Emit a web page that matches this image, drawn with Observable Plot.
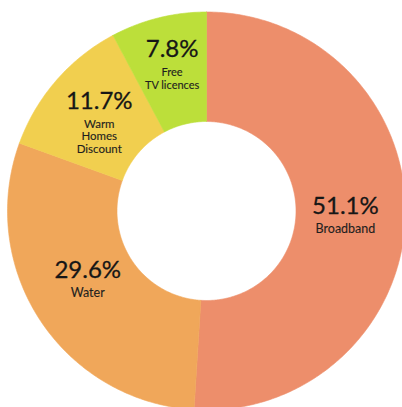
<!DOCTYPE html>
<html><head><meta charset="utf-8">
<script src="https://cdn.jsdelivr.net/npm/d3@7"></script>
<script src="https://cdn.jsdelivr.net/npm/@observablehq/plot@0.6"></script>
<style>html,body{margin:0;padding:0;background:#fff;overflow:hidden;}</style>
</head><body><div id="chart"></div>
<script>
// ---- data ----
const categories = ["Broadband", "Water", "Warm Homes Discount", "Free TV licences"];
const shares = [51.1, 29.6, 11.7, 7.8];
const percentLabels = ["51.1%", "29.6%", "11.7%", "7.8%"];
const nameLines = [["Broadband"], ["Water"], ["Warm", "Homes", "Discount"], ["Free", "TV licences"]];
const colors = ["#ED8E6B", "#F0A75A", "#F1CF4F", "#BCDF3A"];

// ---- layout ----
const W = 402, H = 407;
const CX = 206, CY = 210.5, R0 = 89.5, R1 = 199, RL = 142;
const PCT_SIZE = 24, PCT_CAP = 17, GAP = 19, STEP = 12.5;
const nameSize = {"Broadband": 12.5, "Water": 12.5, "Warm Homes Discount": 11.5, "Free TV licences": 11};
const nudge = {"Broadband": [-3, 0], "Water": [0, -10], "Warm Homes Discount": [0, 4.5], "Free TV licences": [0, -8.5]};

const data = categories.map((c, i) => ({name: c, value: shares[i], pct: percentLabels[i], lines: nameLines[i]}));
const arcs = d3.pie().sort(null).value(d => d.value)(data);

const pts = [];
for (const a of arcs) {
  const n = Math.max(12, Math.ceil((a.endAngle - a.startAngle) * 80));
  const ring = [];
  for (let k = 0; k <= n; k++) {
    const t = a.startAngle + (a.endAngle - a.startAngle) * k / n;
    ring.push([CX + R1 * Math.sin(t), CY - R1 * Math.cos(t)]);
  }
  for (let k = n; k >= 0; k--) {
    const t = a.startAngle + (a.endAngle - a.startAngle) * k / n;
    ring.push([CX + R0 * Math.sin(t), CY - R0 * Math.cos(t)]);
  }
  ring.push(ring[0]);
  ring.forEach(([x, y]) => pts.push({name: a.data.name, x, y}));
}

const pctRows = [], nameRows = [];
for (const a of arcs) {
  const d = a.data;
  const m = (a.startAngle + a.endAngle) / 2;
  const [nx, ny] = nudge[d.name];
  const cx = CX + RL * Math.sin(m) + nx;
  const cy = CY - RL * Math.cos(m) + ny;
  const fs = nameSize[d.name];
  const blockH = PCT_CAP + GAP + STEP * (d.lines.length - 1);
  const pctBase = cy - blockH / 2 + PCT_CAP;
  pctRows.push({x: cx, y: pctBase - 0.32 * PCT_SIZE, text: d.pct});
  d.lines.forEach((ln, i) => {
    const base = pctBase + GAP + STEP * i;
    nameRows.push({x: cx, y: base - 0.32 * fs, text: ln, size: fs});
  });
}

const chart = Plot.plot({
  width: W, height: H,
  margin: 0,
  x: {domain: [0, W], range: [0, W], axis: null},
  y: {domain: [0, H], range: [0, H], axis: null},
  color: {type: "ordinal", domain: categories, range: colors},
  style: {fontFamily: "Lato, 'Open Sans', sans-serif", background: "#fff"},
  marks: [
    Plot.line(pts, {x: "x", y: "y", z: "name", fill: "name", stroke: "name", strokeWidth: 0.6, curve: "linear"}),
    Plot.text(pctRows, {x: "x", y: "y", text: "text", fontSize: PCT_SIZE, fill: "#161616", stroke: "#161616", strokeWidth: 0.3, textAnchor: "middle", lineAnchor: "middle"}),
    Plot.text(nameRows, {x: "x", y: "y", text: "text", fontSize: "size", fill: "#1e1e1e", stroke: "#1e1e1e", strokeWidth: 0.12, textAnchor: "middle", lineAnchor: "middle"})
  ]
});
document.getElementById("chart").appendChild(chart);
</script>
</body></html>
